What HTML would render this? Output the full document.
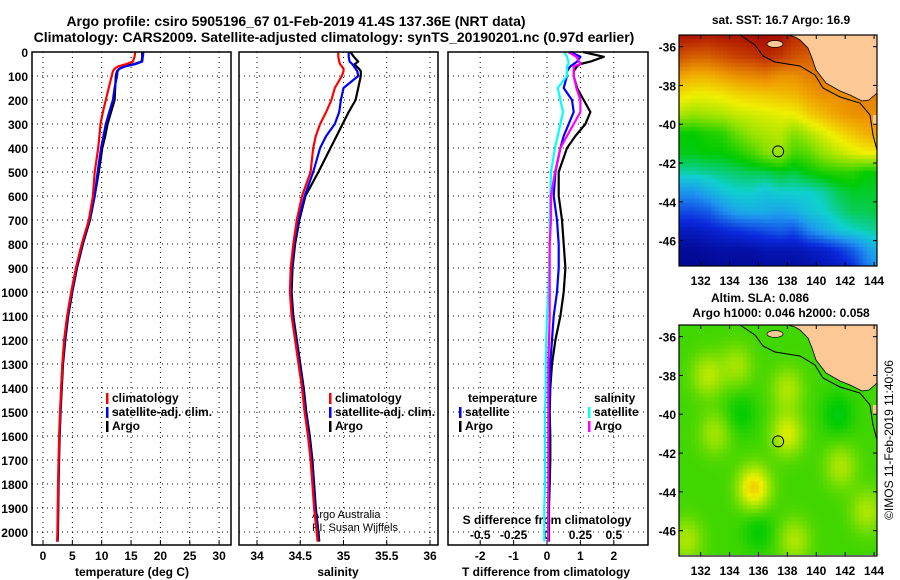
<!DOCTYPE html>
<html><head><meta charset="utf-8"><style>
html,body{margin:0;padding:0;background:#fff;width:900px;height:580px;overflow:hidden}
#wrap{position:relative;width:900px;height:580px}
canvas{position:absolute}
svg{position:absolute;left:0;top:0}
text{font-family:"Liberation Sans",sans-serif;font-weight:bold;fill:#000}
</style></head><body>
<div id="wrap">
<canvas id="sst" width="198" height="231" style="left:679px;top:35px"></canvas>
<canvas id="sla" width="198" height="230" style="left:679px;top:325px"></canvas>
<svg id="svg" width="900" height="580"></svg>
</div>
<script>
// ---- data ----
const depths = [0,20,40,50,60,70,80,100,150,200,250,300,350,400,500,600,700,800,900,1000,1100,1200,1300,1400,1500,1600,1700,1800,1900,2000,2040];
const tempArgo = [16.9,16.9,16.8,15.5,13.8,13.0,12.6,12.4,12.3,12.2,11.6,11.0,10.6,10.1,9.5,8.8,8.0,6.8,5.8,5.0,4.3,3.8,3.4,3.2,3.0,2.85,2.75,2.65,2.6,2.55,2.5];
const tempClim = [15.7,15.6,15.3,14.2,12.8,12.2,11.9,11.7,11.2,10.7,10.2,9.8,9.6,9.4,8.8,8.5,7.8,6.6,5.6,4.8,4.1,3.6,3.3,3.1,2.9,2.75,2.65,2.55,2.5,2.45,2.4];
const tempSat = [17.1,17.0,16.9,15.8,14.0,13.0,12.7,12.6,12.2,11.9,11.3,10.7,10.3,9.9,9.3,8.8,7.9,6.7,5.7,4.9,4.2,3.7,3.3,3.1,2.95,2.8,2.7,2.6,2.55,2.5,2.45];
const salArgo = [35.08,35.12,35.17,35.13,35.15,35.18,35.2,35.2,35.17,35.14,35.06,34.99,34.92,34.85,34.71,34.56,34.49,34.44,34.41,34.40,34.42,34.46,34.5,34.54,34.57,34.61,34.64,34.66,34.68,34.71,34.72];
const salSat = [35.06,35.06,35.07,35.1,35.12,35.14,35.16,35.17,35.0,34.97,34.95,34.9,34.8,34.73,34.65,34.55,34.48,34.43,34.40,34.39,34.41,34.45,34.49,34.53,34.56,34.60,34.63,34.65,34.67,34.70,34.71];
const salClim = [34.94,34.94,34.95,34.96,34.98,35.0,35.0,34.98,34.9,34.86,34.8,34.73,34.68,34.65,34.62,34.52,34.46,34.42,34.39,34.38,34.40,34.44,34.48,34.52,34.55,34.59,34.62,34.64,34.66,34.69,34.70];
const dTArgo = [1.08,1.7,1.3,1.0,0.9,0.85,0.8,0.8,0.9,1.1,1.3,1.15,0.85,0.6,0.35,0.35,0.45,0.5,0.55,0.5,0.4,0.25,0.15,0.1,0.08,0.1,0.1,0.08,0.06,0.06,0.06];
const dTSat = [0.7,1.0,0.9,0.8,0.7,0.65,0.6,0.6,0.5,0.75,0.8,0.65,0.5,0.4,0.25,0.2,0.3,0.35,0.35,0.3,0.2,0.15,0.1,0.08,0.06,0.06,0.05,0.05,0.04,0.04,0.04];
const dSArgo = [0.16,0.22,0.24,0.25,0.2,0.2,0.2,0.2,0.22,0.25,0.25,0.2,0.15,0.1,0.06,0.03,0.03,0.02,0.02,0.02,0.02,0.015,0.01,0.01,0.01,0.01,0.01,0.01,0.01,0.01,0.01];
const dSSat = [0.13,0.15,0.16,0.16,0.15,0.15,0.15,0.15,0.08,0.1,0.12,0.1,0.08,0.06,0.03,0.025,0.02,0.02,0.015,0.01,0,-0.005,-0.01,-0.01,-0.015,-0.015,-0.015,-0.015,-0.02,-0.02,-0.02];
const depthTicks = [0,100,200,300,400,500,600,700,800,900,1000,1100,1200,1300,1400,1500,1600,1700,1800,1900,2000];
const tempTicks = [0,5,10,15,20,25,30];
const salTicks = [34,34.5,35,35.5,36];
const salTickLabels = ["34","34.5","35","35.5","36"];
const dTTicks = [-2,-1,0,1,2];
const dSTicks = [-0.5,-0.25,0,0.25,0.5];
const dSTickLabels = ["-0.5","-0.25","0","0.25","0.5"];
const latTicks = [-36,-38,-40,-42,-44,-46];
const lonTicks = [132,134,136,138,140,142,144];

// ---- axes ----
const yD = d => 52 + d*0.24;
const xT = t => 43 + t*5.87;
const xS = s => 257 + (s-34)*86.5;
const xdT = v => 547 + v*33.4;
const xdS = v => 547 + v*133.6;
const lonX = lon => (lon-130.5)*14.45;
const latY = lat => (-35.4-lat)*19.4;

const NS="http://www.w3.org/2000/svg";
const svg=document.getElementById('svg');
function mk(tag,attrs,parent){const e=document.createElementNS(NS,tag);for(const k in attrs)e.setAttribute(k,attrs[k]);(parent||svg).appendChild(e);return e;}
function txt(x,y,s,size,anchor,name){const t=mk('text',{x:x,y:y,'font-size':size,'text-anchor':anchor||'start'});t.textContent=s;


return t;}

// titles
txt(296,26,"Argo profile: csiro 5905196_67 01-Feb-2019 41.4S 137.36E (NRT data)",14,"middle","title-line-1");
txt(334,42,"Climatology: CARS2009. Satellite-adjusted climatology: synTS_20190201.nc (0.97d earlier)",14,"middle","title-line-2");

const panels=[{x0:32,x1:231,name:'temperature-panel'},{x0:239,x1:438,name:'salinity-panel'},{x0:448,x1:648,name:'difference-panel'}];
const yBot=545;
function vgrid(x){const l=mk('line',{x1:x,x2:x,y1:52,y2:yBot,stroke:'#000','stroke-width':1,'stroke-dasharray':'1,4'});

}
panels.forEach(p=>{
  depthTicks.forEach(d=>{const l=mk('line',{x1:p.x0,x2:p.x1,y1:yD(d),y2:yD(d),stroke:'#000','stroke-width':1,'stroke-dasharray':'1,4'});
  
  });
});
tempTicks.forEach(t=>vgrid(xT(t)));
salTicks.forEach(s=>vgrid(xS(s)));
dTTicks.forEach(v=>vgrid(xdT(v)));
depthTicks.forEach(d=>txt(28,yD(d)+5,String(d),12,"end","depth-tick-label"));
tempTicks.forEach(t=>{txt(xT(t),560,String(t),12,"middle","temperature-tick-label");mk('line',{x1:xT(t),x2:xT(t),y1:yBot-5,y2:yBot,stroke:'#000'});});
salTicks.forEach((s,i)=>{txt(xS(s),560,salTickLabels[i],12,"middle","salinity-tick-label");mk('line',{x1:xS(s),x2:xS(s),y1:yBot-5,y2:yBot,stroke:'#000'});});
dTTicks.forEach(v=>{txt(xdT(v),560,String(v),12,"middle","t-diff-tick-label");mk('line',{x1:xdT(v),x2:xdT(v),y1:yBot-5,y2:yBot,stroke:'#000'});});
dSTicks.forEach((v,i)=>txt(xdS(v),539,dSTickLabels[i],12,"middle","s-diff-tick-label"));
txt(132,576,"temperature (deg C)",12,"middle","temperature-axis-title");
txt(338,576,"salinity",12,"middle","salinity-axis-title");
txt(546,576,"T difference from climatology",12,"middle","t-diff-axis-title");
txt(547,524,"S difference from climatology",12,"middle","s-diff-axis-title");
txt(312,518,"Argo Australia",11,"start","credit-line-1").style.fontWeight="normal";
txt(312,531,"PI: Susan Wijffels",11,"start","credit-line-2").style.fontWeight="normal";

function series(vals,xf,color,name){
  const pts=vals.map((v,i)=>xf(v).toFixed(1)+','+yD(depths[i]).toFixed(1)).join(' ');
  const pl=mk('polyline',{points:pts,fill:'none',stroke:color,'stroke-width':2.2,'stroke-linejoin':'round'});
  
  
}
series(tempArgo,xT,'#000','temp-argo-line');
series(tempSat,xT,'#0000ff','temp-satellite-line');
series(tempClim,xT,'#ff0000','temp-climatology-line');
series(salArgo,xS,'#000','salinity-argo-line');
series(salSat,xS,'#0000ff','salinity-satellite-line');
series(salClim,xS,'#ff0000','salinity-climatology-line');
series(dTArgo,xdT,'#000','t-diff-argo-line');
series(dTSat,xdT,'#0000ff','t-diff-satellite-line');
series(dSSat,xdS,'#00ffff','s-diff-satellite-line');
series(dSArgo,xdS,'#ff00ff','s-diff-argo-line');

panels.forEach(p=>{const r=mk('rect',{x:p.x0,y:52,width:p.x1-p.x0,height:yBot-52,fill:'none',stroke:'#000','stroke-width':1.5});

});

function legend(x,y,color,label,name){mk('rect',{x:x,y:y-9,width:2.5,height:11,fill:color});txt(x+6,y,label,12,"start",name);}
[[106,'temperature'],[329,'salinity']].forEach(([lx,n])=>{
  legend(lx,402,'#ff0000','climatology',n+'-legend-climatology');
  legend(lx,416,'#0000ff','satellite-adj. clim.',n+'-legend-satellite');
  legend(lx,430,'#000','Argo',n+'-legend-argo');
});
txt(468,402,"temperature",12,"start","legend-temperature-heading");
legend(459,416,'#0000ff','satellite','diff-legend-t-satellite');
legend(459,430,'#000','Argo','diff-legend-t-argo');
txt(594,402,"salinity",12,"start","legend-salinity-heading");
legend(588,416,'#00ffff','satellite','diff-legend-s-satellite');
legend(588,430,'#ff00ff','Argo','diff-legend-s-argo');

// ---- maps ----
const sstGrid = [
[.97,.97,.96,.97,.97,.98,.98,.98,.94,.94,.94,.94,.94,.94,.94],
[.9,.88,.88,.9,.92,.93,.95,.93,.9,.88,.88,.88,.88,.88,.88],
[.8,.78,.78,.8,.82,.83,.84,.82,.82,.84,.85,.85,.85,.85,.85],
[.72,.7,.7,.71,.73,.74,.75,.76,.77,.8,.82,.82,.83,.84,.84],
[.64,.62,.63,.64,.66,.67,.68,.69,.7,.74,.77,.8,.82,.82,.82],
[.5,.5,.52,.53,.58,.62,.64,.65,.6,.64,.68,.72,.75,.78,.8],
[.49,.49,.5,.5,.52,.55,.6,.62,.55,.57,.62,.65,.68,.7,.7],
[.42,.42,.43,.44,.45,.46,.46,.48,.47,.5,.52,.53,.53,.5,.5],
[.3,.3,.34,.38,.4,.4,.38,.4,.4,.4,.42,.46,.48,.48,.48],
[.2,.2,.22,.28,.33,.34,.34,.32,.34,.38,.4,.43,.46,.46,.48],
[.1,.1,.12,.14,.16,.18,.2,.22,.2,.28,.33,.38,.4,.42,.43],
[.04,.04,.05,.06,.06,.06,.08,.08,.08,.1,.12,.16,.22,.3,.36],
[.03,.03,.03,.04,.04,.04,.05,.05,.05,.06,.08,.1,.14,.25,.32]];
const slaBumps = [[132.5,-38,0.1],[134.5,-37.5,0.08],[138,-38.7,0.09],[133,-41,0.08],[138,-41,0.13],[135.7,-43.8,0.19],[141.7,-42.7,0.09],[131,-46.5,0.09],[138.5,-46.5,0.09],[143.5,-45,0.09],[134.8,-40,-0.05],[141.5,-40,-0.06],[136,-46,-0.05]];
const stops=[[0,[0,0,128]],[.15,[10,40,220]],[.3,[30,150,240]],[.4,[16,208,208]],[.5,[0,204,0]],[.6,[128,224,0]],[.7,[240,240,0]],[.8,[240,160,0]],[.9,[208,80,0]],[1,[160,0,0]]];
function cmap(v){v=Math.max(0,Math.min(1,v));for(let i=1;i<stops.length;i++){if(v<=stops[i][0]){const a=stops[i-1],b=stops[i],f=(v-a[0])/(b[0]-a[0]);return a[1].map((c,k)=>Math.round(c+(b[1][k]-c)*f));}}return stops[stops.length-1][1];}
function sstAt(lon,lat){const c=Math.max(0,Math.min(13.999,lon-130.5)),r=Math.max(0,Math.min(11.999,-35.5-lat));const i=Math.floor(r),j=Math.floor(c),fr=r-i,fc=c-j;
 return sstGrid[i][j]*(1-fr)*(1-fc)+sstGrid[i][j+1]*(1-fr)*fc+sstGrid[i+1][j]*fr*(1-fc)+sstGrid[i+1][j+1]*fr*fc;}
function slaAt(lon,lat){let v=0.55;slaBumps.forEach(b=>{v+=b[2]*Math.exp(-((lon-b[0])**2+(lat-b[1])**2)/1.2);});return v;}
function drawMap(id,fn,cell){const c=document.getElementById(id).getContext('2d');
 for(let y=0;y<231;y+=cell)for(let x=0;x<198;x+=cell){const lon=130.5+(x+cell/2)/14.45,lat=-35.4-(y+cell/2)/19.4;
 const col=cmap(fn(lon,lat));c.fillStyle='rgb('+col.join(',')+')';c.fillRect(x,y,cell,cell);}}
drawMap('sst',sstAt,4);drawMap('sla',slaAt,4);

function mapOverlay(oy,name){
  const g=mk('g',{transform:'translate(679,'+oy+')'});
  
  
  mk('polygon',{points:'109,0 198,0 198,58 190,65 183,66 171,60 161,56 147,48 137,35 133,23 129,13 121,5 116,2',fill:'#fbc896'},g);
  mk('ellipse',{cx:96,cy:9,rx:8,ry:3.5,fill:'#fbc896',stroke:'#000','stroke-width':0.7},g);
  mk('rect',{x:194,y:80,width:4,height:9,fill:'#fbc896'},g);
  mk('polyline',{points:'61,0 76,10 84,21 96,27 121,31 136,40 144,53 161,62 181,68 191,80 194,100 198,115',fill:'none',stroke:'#000','stroke-width':1},g);
  mk('polyline',{points:'109,0 116,2 121,5 129,13 133,23 137,35 147,48 161,56 171,60 183,66 190,65 198,58',fill:'none',stroke:'#000','stroke-width':0.8},g);
  mk('circle',{cx:lonX(137.36),cy:latY(-41.4),r:5.5,fill:'none',stroke:'#000','stroke-width':1},g);
  mk('rect',{x:0,y:0,width:198,height:231,fill:'none',stroke:'#000','stroke-width':1.2},g);
  latTicks.forEach(l=>{mk('line',{x1:0,x2:4,y1:latY(l),y2:latY(l),stroke:'#000'},g);mk('line',{x1:194,x2:198,y1:latY(l),y2:latY(l),stroke:'#000'},g);
    const t=mk('text',{x:-3,y:latY(l)+5,'font-size':12,'text-anchor':'end'},g);t.textContent=String(l);
    
    });
  lonTicks.forEach(l=>{mk('line',{x1:lonX(l),x2:lonX(l),y1:0,y2:4,stroke:'#000'},g);mk('line',{x1:lonX(l),x2:lonX(l),y1:227,y2:231,stroke:'#000'},g);
    const t=mk('text',{x:lonX(l),y:250,'font-size':12,'text-anchor':'middle'},g);t.textContent=String(l);
    
    });
}
mapOverlay(35,'sst-map-overlay');
mapOverlay(325,'sla-map-overlay');
txt(781,24,"sat. SST: 16.7 Argo: 16.9",12,"middle","sst-map-title");
txt(760,302,"Altim. SLA: 0.086",12,"middle","sla-map-title");
txt(781,317,"Argo h1000: 0.046 h2000: 0.058",12,"middle","sla-map-subtitle");
const cr=txt(0,0,"©IMOS 11-Feb-2019 11:40:06",12,"middle","imos-timestamp");
cr.style.fontWeight="normal";
cr.setAttribute('transform','translate(893,440) rotate(-90)');
</script>
</body></html>
